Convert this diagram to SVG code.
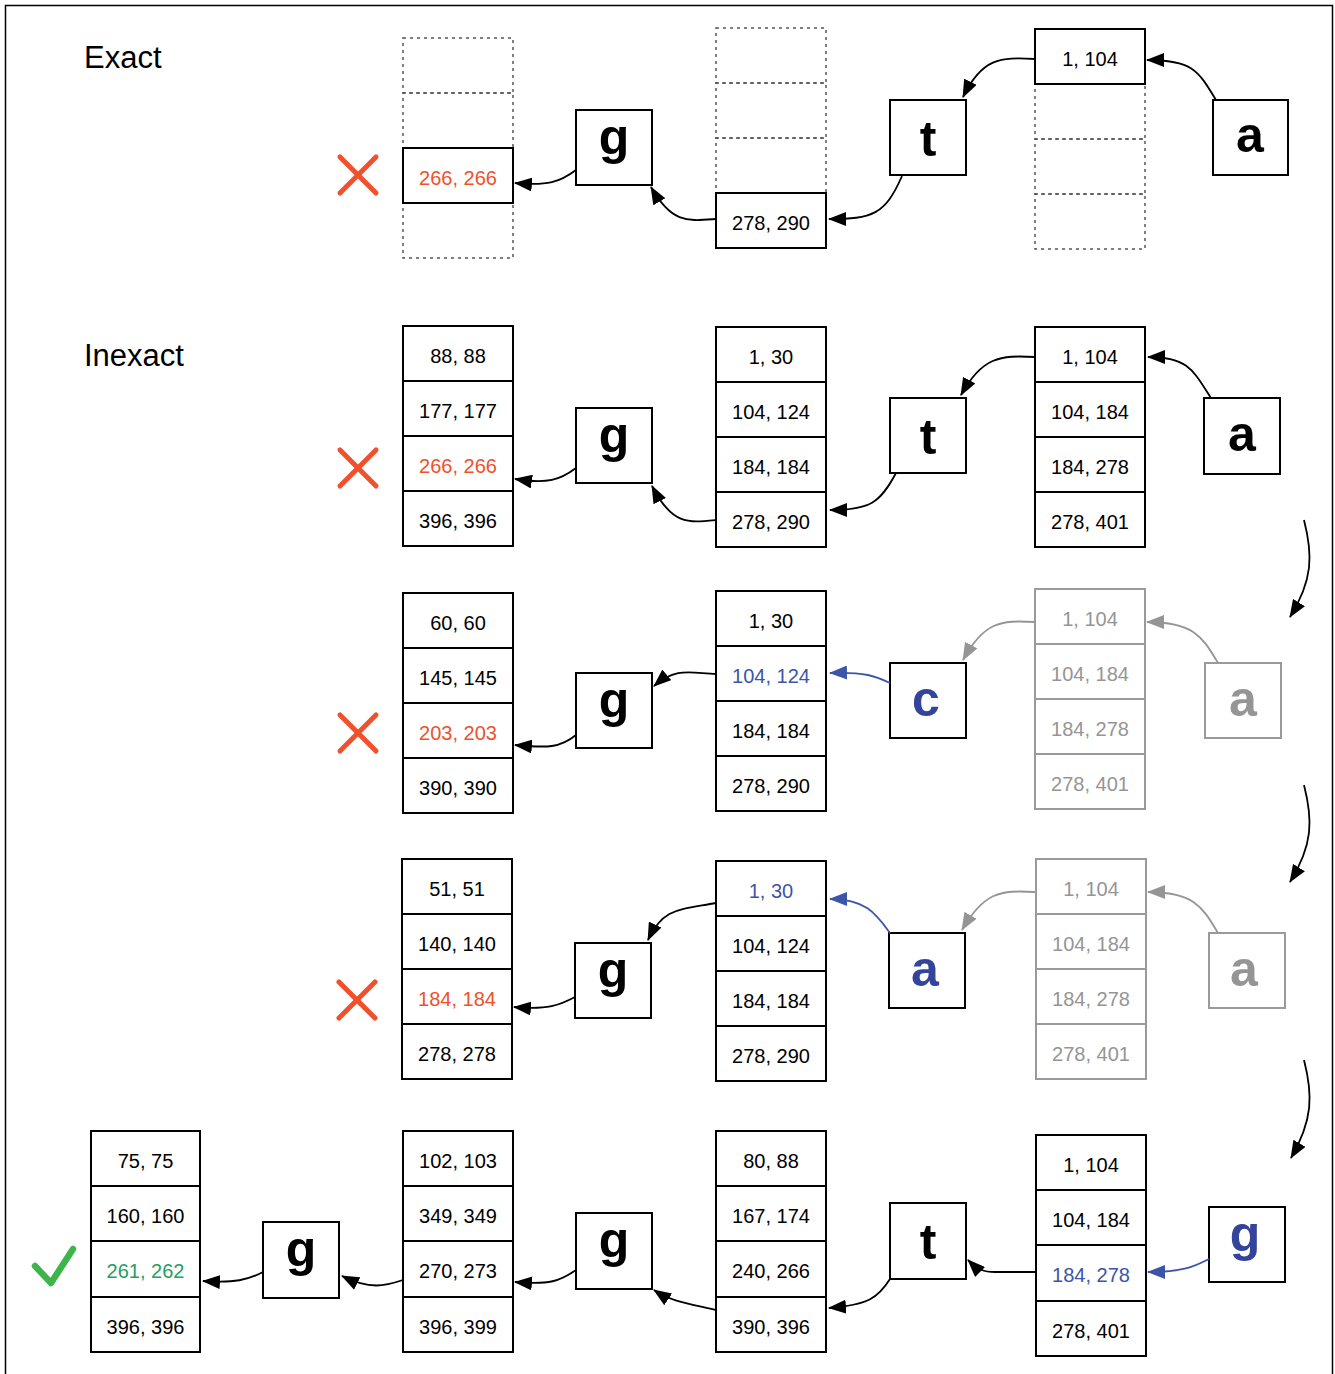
<svg xmlns="http://www.w3.org/2000/svg" width="1335" height="1374" viewBox="0 0 1335 1374">
<defs>
<style>
.frame{fill:none;stroke:#000;stroke-width:1.5}
.cell{fill:#fff;stroke:#000;stroke-width:2}
.gcell{fill:#fff;stroke:#9a9a9a;stroke-width:2}
.dcell{fill:none;stroke:#555;stroke-width:1.5;stroke-dasharray:3 4}
.num{font-family:"Liberation Sans",Arial,sans-serif;font-size:20px;text-anchor:middle;fill:#000}
.big{font-family:"Liberation Sans",Arial,sans-serif;font-size:50px;font-weight:bold;text-anchor:middle;fill:#000}
.title{font-family:"Liberation Sans",Arial,sans-serif;font-size:31px;fill:#000}
.red{fill:#F0502C}
.blue{fill:#3D55A8}
.bblue{fill:#33449A}
.gray{fill:#959595}
.green{fill:#23A062}
.con{fill:none;stroke:#000;stroke-width:1.8}
.cgray{fill:none;stroke:#959595;stroke-width:1.8}
.cblue{fill:none;stroke:#3D55A8;stroke-width:1.8}
.xmark{stroke:#F0502C;stroke-width:5;stroke-linecap:round}
</style>
<marker id="ah" viewBox="0 0 18 14" refX="17" refY="7" markerWidth="18" markerHeight="14" markerUnits="userSpaceOnUse" orient="auto"><path d="M0,0 L18,7 L0,14 z" fill="#000"/></marker>
<marker id="ahg" viewBox="0 0 18 14" refX="17" refY="7" markerWidth="18" markerHeight="14" markerUnits="userSpaceOnUse" orient="auto"><path d="M0,0 L18,7 L0,14 z" fill="#959595"/></marker>
<marker id="ahb" viewBox="0 0 18 14" refX="17" refY="7" markerWidth="18" markerHeight="14" markerUnits="userSpaceOnUse" orient="auto"><path d="M0,0 L18,7 L0,14 z" fill="#3D55A8"/></marker>
</defs>
<rect width="1335" height="1374" fill="#fff"/>
<rect class="frame" x="5.5" y="5.5" width="1327" height="1420"/>

<text class="title" x="84" y="68">Exact</text>
<text class="title" x="84" y="366">Inexact</text>

<!-- Row 1 -->
<g id="r1-col1">
<rect class="dcell" x="403" y="38" width="110" height="55"/>
<rect class="dcell" x="403" y="93" width="110" height="55"/>
<rect class="dcell" x="403" y="203" width="110" height="55"/>
<rect class="cell" x="403" y="148" width="110" height="55"/>
<text class="num red" x="458" y="185">266, 266</text>
</g>
<g id="r1-x"><line class="xmark" x1="340" y1="157" x2="376" y2="193"/><line class="xmark" x1="376" y1="157" x2="340" y2="193"/></g>
<g id="r1-g"><rect class="cell" x="576" y="110" width="76" height="75"/><text class="big" x="614" y="154">g</text></g>
<g id="r1-col2">
<rect class="dcell" x="716" y="28" width="110" height="55"/>
<rect class="dcell" x="716" y="83" width="110" height="55"/>
<rect class="dcell" x="716" y="138" width="110" height="55"/>
<rect class="cell" x="716" y="193" width="110" height="55"/>
<text class="num" x="771" y="230">278, 290</text>
</g>
<g id="r1-t"><rect class="cell" x="890" y="100" width="76" height="75"/><text class="big" x="928" y="156">t</text></g>
<g id="r1-col3">
<rect class="dcell" x="1035" y="84" width="110" height="55"/>
<rect class="dcell" x="1035" y="139" width="110" height="55"/>
<rect class="dcell" x="1035" y="194" width="110" height="55"/>
<rect class="cell" x="1035" y="29" width="110" height="55"/>
<text class="num" x="1090" y="66">1, 104</text>
</g>
<g id="r1-a"><rect class="cell" x="1213" y="100" width="75" height="75"/><text class="big" x="1250" y="152">a</text></g>

<!-- Row 2 -->
<g id="r2-col1">
<rect class="cell" x="403" y="326" width="110" height="55"/><text class="num" x="458" y="363">88, 88</text>
<rect class="cell" x="403" y="381" width="110" height="55"/><text class="num" x="458" y="418">177, 177</text>
<rect class="cell" x="403" y="436" width="110" height="55"/><text class="num red" x="458" y="473">266, 266</text>
<rect class="cell" x="403" y="491" width="110" height="55"/><text class="num" x="458" y="528">396, 396</text>
</g>
<g id="r2-x"><line class="xmark" x1="340" y1="450" x2="376" y2="486"/><line class="xmark" x1="376" y1="450" x2="340" y2="486"/></g>
<g id="r2-g"><rect class="cell" x="576" y="408" width="76" height="75"/><text class="big" x="614" y="452">g</text></g>
<g id="r2-col2">
<rect class="cell" x="716" y="327" width="110" height="55"/><text class="num" x="771" y="364">1, 30</text>
<rect class="cell" x="716" y="382" width="110" height="55"/><text class="num" x="771" y="419">104, 124</text>
<rect class="cell" x="716" y="437" width="110" height="55"/><text class="num" x="771" y="474">184, 184</text>
<rect class="cell" x="716" y="492" width="110" height="55"/><text class="num" x="771" y="529">278, 290</text>
</g>
<g id="r2-t"><rect class="cell" x="890" y="398" width="76" height="75"/><text class="big" x="928" y="454">t</text></g>
<g id="r2-col3">
<rect class="cell" x="1035" y="327" width="110" height="55"/><text class="num" x="1090" y="364">1, 104</text>
<rect class="cell" x="1035" y="382" width="110" height="55"/><text class="num" x="1090" y="419">104, 184</text>
<rect class="cell" x="1035" y="437" width="110" height="55"/><text class="num" x="1090" y="474">184, 278</text>
<rect class="cell" x="1035" y="492" width="110" height="55"/><text class="num" x="1090" y="529">278, 401</text>
</g>
<g id="r2-a"><rect class="cell" x="1204" y="398" width="76" height="76"/><text class="big" x="1242" y="451">a</text></g>

<!-- Row 3 -->
<g id="r3-col1">
<rect class="cell" x="403" y="593" width="110" height="55"/><text class="num" x="458" y="630">60, 60</text>
<rect class="cell" x="403" y="648" width="110" height="55"/><text class="num" x="458" y="685">145, 145</text>
<rect class="cell" x="403" y="703" width="110" height="55"/><text class="num red" x="458" y="740">203, 203</text>
<rect class="cell" x="403" y="758" width="110" height="55"/><text class="num" x="458" y="795">390, 390</text>
</g>
<g id="r3-x"><line class="xmark" x1="340" y1="715" x2="376" y2="751"/><line class="xmark" x1="376" y1="715" x2="340" y2="751"/></g>
<g id="r3-g"><rect class="cell" x="576" y="673" width="76" height="75"/><text class="big" x="614" y="717">g</text></g>
<g id="r3-col2">
<rect class="cell" x="716" y="591" width="110" height="55"/><text class="num" x="771" y="628">1, 30</text>
<rect class="cell" x="716" y="646" width="110" height="55"/><text class="num blue" x="771" y="683">104, 124</text>
<rect class="cell" x="716" y="701" width="110" height="55"/><text class="num" x="771" y="738">184, 184</text>
<rect class="cell" x="716" y="756" width="110" height="55"/><text class="num" x="771" y="793">278, 290</text>
</g>
<g id="r3-c"><rect class="cell" x="890" y="663" width="76" height="75"/><text class="big bblue" x="926" y="716">c</text></g>
<g id="r3-col3">
<rect class="gcell" x="1035" y="589" width="110" height="55"/><text class="num gray" x="1090" y="626">1, 104</text>
<rect class="gcell" x="1035" y="644" width="110" height="55"/><text class="num gray" x="1090" y="681">104, 184</text>
<rect class="gcell" x="1035" y="699" width="110" height="55"/><text class="num gray" x="1090" y="736">184, 278</text>
<rect class="gcell" x="1035" y="754" width="110" height="55"/><text class="num gray" x="1090" y="791">278, 401</text>
</g>
<g id="r3-a"><rect class="gcell" x="1205" y="663" width="76" height="75"/><text class="big gray" x="1243" y="716">a</text></g>

<!-- Row 4 -->
<g id="r4-col1">
<rect class="cell" x="402" y="859" width="110" height="55"/><text class="num" x="457" y="896">51, 51</text>
<rect class="cell" x="402" y="914" width="110" height="55"/><text class="num" x="457" y="951">140, 140</text>
<rect class="cell" x="402" y="969" width="110" height="55"/><text class="num red" x="457" y="1006">184, 184</text>
<rect class="cell" x="402" y="1024" width="110" height="55"/><text class="num" x="457" y="1061">278, 278</text>
</g>
<g id="r4-x"><line class="xmark" x1="339" y1="982" x2="375" y2="1018"/><line class="xmark" x1="375" y1="982" x2="339" y2="1018"/></g>
<g id="r4-g"><rect class="cell" x="575" y="943" width="76" height="75"/><text class="big" x="613" y="987">g</text></g>
<g id="r4-col2">
<rect class="cell" x="716" y="861" width="110" height="55"/><text class="num blue" x="771" y="898">1, 30</text>
<rect class="cell" x="716" y="916" width="110" height="55"/><text class="num" x="771" y="953">104, 124</text>
<rect class="cell" x="716" y="971" width="110" height="55"/><text class="num" x="771" y="1008">184, 184</text>
<rect class="cell" x="716" y="1026" width="110" height="55"/><text class="num" x="771" y="1063">278, 290</text>
</g>
<g id="r4-a"><rect class="cell" x="889" y="933" width="76" height="75"/><text class="big bblue" x="925" y="986">a</text></g>
<g id="r4-col3">
<rect class="gcell" x="1036" y="859" width="110" height="55"/><text class="num gray" x="1091" y="896">1, 104</text>
<rect class="gcell" x="1036" y="914" width="110" height="55"/><text class="num gray" x="1091" y="951">104, 184</text>
<rect class="gcell" x="1036" y="969" width="110" height="55"/><text class="num gray" x="1091" y="1006">184, 278</text>
<rect class="gcell" x="1036" y="1024" width="110" height="55"/><text class="num gray" x="1091" y="1061">278, 401</text>
</g>
<g id="r4-a2"><rect class="gcell" x="1209" y="933" width="76" height="75"/><text class="big gray" x="1244" y="986">a</text></g>

<!-- Row 5 -->
<g id="r5-col1">
<rect class="cell" x="91" y="1131" width="109" height="55"/><text class="num" x="145.5" y="1168">75, 75</text>
<rect class="cell" x="91" y="1186" width="109" height="55"/><text class="num" x="145.5" y="1223">160, 160</text>
<rect class="cell" x="91" y="1241" width="109" height="56"/><text class="num green" x="145.5" y="1278">261, 262</text>
<rect class="cell" x="91" y="1297" width="109" height="55"/><text class="num" x="145.5" y="1334">396, 396</text>
</g>
<g id="r5-check"><path d="M35,1266 L51,1283 L73,1249" fill="none" stroke="#3DB54A" stroke-width="6.5" stroke-linecap="round" stroke-linejoin="round"/></g>
<g id="r5-g1"><rect class="cell" x="263" y="1222" width="76" height="76"/><text class="big" x="301" y="1266">g</text></g>
<g id="r5-col2">
<rect class="cell" x="403" y="1131" width="110" height="55"/><text class="num" x="458" y="1168">102, 103</text>
<rect class="cell" x="403" y="1186" width="110" height="55"/><text class="num" x="458" y="1223">349, 349</text>
<rect class="cell" x="403" y="1241" width="110" height="56"/><text class="num" x="458" y="1278">270, 273</text>
<rect class="cell" x="403" y="1297" width="110" height="55"/><text class="num" x="458" y="1334">396, 399</text>
</g>
<g id="r5-g2"><rect class="cell" x="576" y="1213" width="76" height="76"/><text class="big" x="614" y="1257">g</text></g>
<g id="r5-col3">
<rect class="cell" x="716" y="1131" width="110" height="55"/><text class="num" x="771" y="1168">80, 88</text>
<rect class="cell" x="716" y="1186" width="110" height="55"/><text class="num" x="771" y="1223">167, 174</text>
<rect class="cell" x="716" y="1241" width="110" height="56"/><text class="num" x="771" y="1278">240, 266</text>
<rect class="cell" x="716" y="1297" width="110" height="55"/><text class="num" x="771" y="1334">390, 396</text>
</g>
<g id="r5-t"><rect class="cell" x="890" y="1203" width="76" height="76"/><text class="big" x="928" y="1259">t</text></g>
<g id="r5-col4">
<rect class="cell" x="1036" y="1135" width="110" height="55"/><text class="num" x="1091" y="1172">1, 104</text>
<rect class="cell" x="1036" y="1190" width="110" height="55"/><text class="num" x="1091" y="1227">104, 184</text>
<rect class="cell" x="1036" y="1245" width="110" height="56"/><text class="num blue" x="1091" y="1282">184, 278</text>
<rect class="cell" x="1036" y="1301" width="110" height="55"/><text class="num" x="1091" y="1338">278, 401</text>
</g>
<g id="r5-g3"><rect class="cell" x="1209" y="1207" width="76" height="75"/><text class="big bblue" x="1245" y="1251">g</text></g>

<g id="connectors">
<!-- row 1 -->
<path class="con" marker-end="url(#ah)" d="M1216,100 C1198,70 1192,60 1147,60"/>
<path class="con" marker-end="url(#ah)" d="M1035,59 C1000,57 982,58 963,97"/>
<path class="con" marker-end="url(#ah)" d="M902,176 C885,215 872,219 829,219"/>
<path class="con" marker-end="url(#ah)" d="M716,219 C688,221 672,224 651,187"/>
<path class="con" marker-end="url(#ah)" d="M576,170 C560,182 548,186 515,183"/>
<!-- row 2 -->
<path class="con" marker-end="url(#ah)" d="M1211,398 C1193,370 1188,357 1148,357"/>
<path class="con" marker-end="url(#ah)" d="M1035,357 C1000,355 982,357 961,395"/>
<path class="con" marker-end="url(#ah)" d="M896,473 C880,503 870,510 830,510"/>
<path class="con" marker-end="url(#ah)" d="M716,520 C688,523 672,525 652,486"/>
<path class="con" marker-end="url(#ah)" d="M576,468 C560,480 548,484 515,479"/>
<path class="con" marker-end="url(#ah)" d="M1304,520 C1313,555 1313,580 1290,617"/>
<!-- row 3 -->
<path class="cgray" marker-end="url(#ahg)" d="M1218,663 C1203,638 1195,622 1147,622"/>
<path class="cgray" marker-end="url(#ahg)" d="M1035,622 C1000,620 984,622 963,660"/>
<path class="cblue" marker-end="url(#ahb)" d="M890,683 C875,676 866,672 830,673"/>
<path class="con" marker-end="url(#ah)" d="M716,674 C690,673 676,667 654,686"/>
<path class="con" marker-end="url(#ah)" d="M576,735 C560,748 548,748 515,745"/>
<path class="con" marker-end="url(#ah)" d="M1304,785 C1313,820 1313,845 1290,882"/>
<!-- row 4 -->
<path class="cgray" marker-end="url(#ahg)" d="M1218,933 C1203,908 1195,892 1148,892"/>
<path class="cgray" marker-end="url(#ahg)" d="M1035,892 C1000,890 984,892 962,930"/>
<path class="cblue" marker-end="url(#ahb)" d="M890,933 C876,914 866,899 830,899"/>
<path class="con" marker-end="url(#ah)" d="M716,903 C678,910 663,908 648,940"/>
<path class="con" marker-end="url(#ah)" d="M575,997 C560,1005 548,1010 514,1007"/>
<path class="con" marker-end="url(#ah)" d="M1304,1060 C1313,1095 1313,1120 1291,1158"/>
<!-- row 5 -->
<path class="cblue" marker-end="url(#ahb)" d="M1209,1259 C1195,1266 1185,1272 1148,1272"/>
<path class="con" marker-end="url(#ah)" d="M1036,1272 L995,1272 C984,1272 978,1270 968,1260"/>
<path class="con" marker-end="url(#ah)" d="M890,1279 C878,1298 868,1305 829,1308"/>
<path class="con" marker-end="url(#ah)" d="M716,1310 C690,1304 672,1302 654,1290"/>
<path class="con" marker-end="url(#ah)" d="M576,1270 C560,1281 550,1285 515,1282"/>
<path class="con" marker-end="url(#ah)" d="M403,1280 C385,1286 370,1290 342,1276"/>
<path class="con" marker-end="url(#ah)" d="M263,1272 C248,1280 235,1283 203,1281"/>
</g>
</svg>
